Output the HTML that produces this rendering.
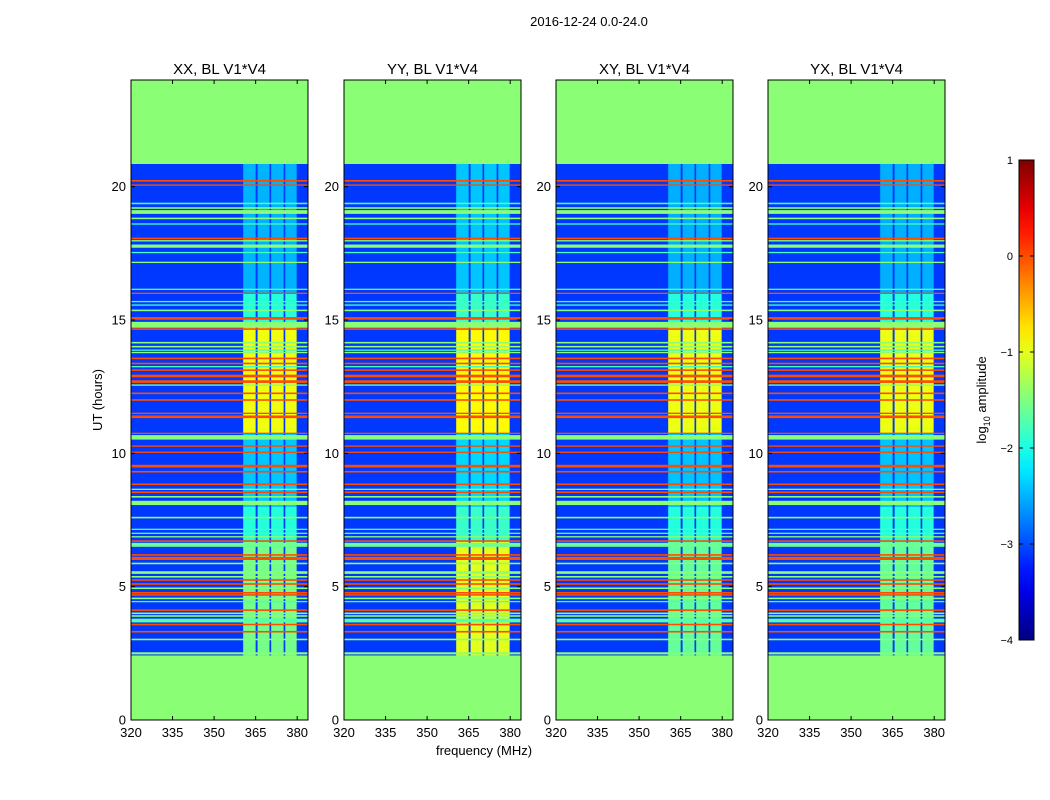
<!DOCTYPE html>
<html><head><meta charset="utf-8"><style>
body{margin:0;background:#fff;}
svg{display:block;font-family:"Liberation Sans",sans-serif;}
</style></head><body>
<svg id="chart" width="1050" height="800" viewBox="0 0 1050 800" xmlns="http://www.w3.org/2000/svg">
<text x="589" y="26" font-size="13" text-anchor="middle">2016-12-24 0.0-24.0</text>
<text transform="translate(102,400) rotate(-90)" font-size="13" text-anchor="middle">UT (hours)</text>
<text x="484" y="755" font-size="13" text-anchor="middle">frequency (MHz)</text>
<g id="panels"></g>
<g id="cbar"></g>
</svg>
<script>
const panelTitles=["XX, BL V1*V4","YY, BL V1*V4","XY, BL V1*V4","YX, BL V1*V4"];
const panelLeft=[131,344,556,768];
const xTicks=[320,335,350,365,380];
const yTicks=[0,5,10,15,20];
const cbTicks=[1,0,-1,-2,-3,-4];
const emptyVal=-1.45;
const bgVal=-3.1;
const dataStart=2.42, dataEnd=20.85;
const bandLo=[360.5,365.7,370.6,375.7];
const bandHi=[365.0,370.0,375.1,379.8];
const segStart=[2.42,6.7,8.0,10.75,14.7,16.0];
const segEnd=[6.7,8.0,10.75,14.7,16.0,20.85];
const segVal=[-1.55,-1.95,-2.4,-0.95,-1.95,-2.5];
const panelBoost=[0,0.3,-0.05,-0.05];
const lineHours=[20.22,20.06,19.37,19.2,19.05,18.81,18.6,18.06,17.97,17.77,17.53,17.16,16.15,16.0,15.69,15.56,15.36,15.06,14.82,14.66,14.15,14.0,13.87,13.78,13.56,13.37,13.25,13.12,12.9,12.69,12.56,12.25,12.0,11.5,11.37,10.75,10.6,10.27,10.04,9.52,9.31,8.84,8.65,8.54,8.37,8.14,7.59,7.15,7.0,6.87,6.71,6.57,6.19,6.06,5.87,5.53,5.37,5.25,5.1,4.94,4.77,4.69,4.56,4.44,4.12,4.0,3.9,3.73,3.58,3.31,3.02,2.5];
const lineVals=[0,0,-1.8,-1.45,-1.45,-1.45,-1.8,0,-1.45,-1.45,-1.8,-1.45,-1.8,0,-1.8,-1.8,-1.45,0,-1.45,0,-1.45,-1.45,-1.8,-1.45,0,0,-1.8,0,0,0,-1.45,0,0,0,0,0,-1.45,0,0,0,0,0,-1.45,0,-1.45,-1.45,-1.45,-1.8,-1.8,-1.45,0,-1.6,0,0,-1.45,-1.45,-1.45,0,0,-1.45,0,0,-1.45,-1.8,0,-1.45,-1.45,-1.7,0,0,-1.45,-1.45];
const lineDur=[0.06,0.05,0.06,0.06,0.14,0.06,0.05,0.06,0.05,0.12,0.05,0.05,0.05,0.05,0.05,0.05,0.06,0.1,0.22,0.06,0.06,0.06,0.05,0.05,0.06,0.06,0.05,0.06,0.1,0.1,0.05,0.06,0.06,0.05,0.1,0.05,0.17,0.05,0.05,0.1,0.06,0.06,0.05,0.06,0.06,0.16,0.06,0.05,0.05,0.05,0.06,0.15,0.06,0.12,0.06,0.1,0.06,0.06,0.06,0.06,0.06,0.06,0.06,0.05,0.06,0.06,0.06,0.14,0.06,0.06,0.06,0.08];

const NS="http://www.w3.org/2000/svg";
const top0=80,bot0=720,pw=177,fmin=320,fmax=320+177/2.77;
function yS(h){return bot0-(h/24)*(bot0-top0);}
function jet(v){let t=(v+4)/5;t=Math.max(0,Math.min(1,t));
 const f=x=>Math.max(0,Math.min(1,x));
 const r=f(1.5-Math.abs(4*t-3)),g=f(1.5-Math.abs(4*t-2)),b=f(1.5-Math.abs(4*t-1));
 return `rgb(${Math.round(r*255)},${Math.round(g*255)},${Math.round(b*255)})`;}
function mk(tag,attrs,parent){const e=document.createElementNS(NS,tag);for(const k in attrs)e.setAttribute(k,attrs[k]);parent.appendChild(e);return e;}
const panels=document.getElementById('panels');
panelLeft.forEach((L,p)=>{
 const xS=f=>L+(f-fmin)/(fmax-fmin)*pw;
 const g=mk('g',{},panels);
 
 
 const bg=mk('rect',{x:L,y:top0,width:pw,height:bot0-top0,fill:jet(emptyVal)},g);
 
 
 const dr=mk('rect',{x:L,y:yS(dataEnd),width:pw,height:yS(dataStart)-yS(dataEnd),fill:jet(bgVal)},g);
 
 
 segStart.forEach((s,i)=>{bandLo.forEach((lo,b)=>{
  const r=mk('rect',{x:xS(lo),y:yS(segEnd[i]),width:xS(bandHi[b])-xS(lo),height:yS(s)-yS(segEnd[i]),fill:jet(segVal[i]+panelBoost[p]*(i===0?1.8:0.3))},g);
  
  
 });});
 lineHours.forEach((h,i)=>{
  const y1=yS(h+lineDur[i]/2),y2=yS(h-lineDur[i]/2);
  const r=mk('rect',{x:L,y:y1,width:pw,height:Math.max(1.3,y2-y1),fill:jet(lineVals[i])},g);
  
  
 });
 const fr=mk('rect',{x:L,y:top0,width:pw,height:bot0-top0,fill:'none',stroke:'#000','stroke-width':1},g);
 
 
 const t=mk('text',{x:L+pw/2,y:74,'font-size':15,'text-anchor':'middle'},g);t.textContent=panelTitles[p];
 
 
 xTicks.forEach(v=>{const x=xS(v);
  mk('line',{x1:x,x2:x,y1:bot0,y2:bot0-4,stroke:'#000'},g);mk('line',{x1:x,x2:x,y1:top0,y2:top0+4,stroke:'#000'},g);
  const tx=mk('text',{x:x,y:bot0+17,'font-size':13,'text-anchor':'middle'},g);tx.textContent=v;
  
  });
 yTicks.forEach(v=>{const y=yS(v);
  mk('line',{x1:L,x2:L+4,y1:y,y2:y,stroke:'#000'},g);mk('line',{x1:L+pw,x2:L+pw-4,y1:y,y2:y,stroke:'#000'},g);
  const ty=mk('text',{x:L-5,y:y+4.5,'font-size':13,'text-anchor':'end'},g);ty.textContent=v;
  
  });
});
const cb=document.getElementById('cbar');
const cbX=1019,cbW=15,cbTop=160,cbBot=640;
const defs=mk('defs',{},cb);
const grad=mk('linearGradient',{id:'jetg',x1:0,y1:1,x2:0,y2:0},defs);
for(let i=0;i<=20;i++){const v=-4+5*i/20;mk('stop',{offset:i/20,'stop-color':jet(v)},grad);}
const cr=mk('rect',{x:cbX,y:cbTop,width:cbW,height:cbBot-cbTop,fill:'url(#jetg)',stroke:'#000'},cb);


cbTicks.forEach(v=>{const y=cbBot-(v+4)/5*(cbBot-cbTop);
 mk('line',{x1:cbX+cbW-4,x2:cbX+cbW,y1:y,y2:y,stroke:'#000'},cb);mk('line',{x1:cbX,x2:cbX+4,y1:y,y2:y,stroke:'#000'},cb);
 const t=mk('text',{x:cbX-6,y:y+4,'font-size':11,'text-anchor':'end'},cb);t.textContent=(v<0?'\u2212'+(-v):v);
 
 });
const cl=mk('text',{transform:'translate(986,400) rotate(-90)','font-size':13,'text-anchor':'middle'},cb);
cl.innerHTML='log<tspan font-size="9" dy="4">10</tspan><tspan dy="-4"> amplitude</tspan>';


</script>
</body></html>
